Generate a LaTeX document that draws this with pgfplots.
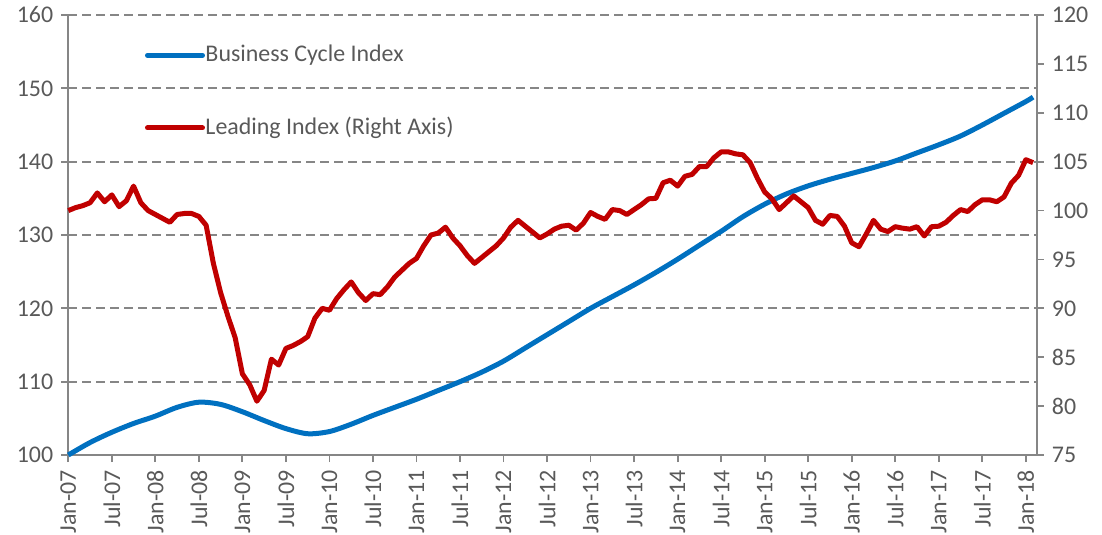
\documentclass[border=0pt]{standalone}
\usepackage{fontspec}
\setmainfont{Carlito}
\usepackage{pgfplots}
\pgfplotsset{compat=1.18}
\definecolor{bci}{HTML}{0070C0}
\definecolor{lead}{HTML}{C00000}
\definecolor{axgray}{HTML}{868686}
\definecolor{txtgray}{HTML}{595959}
\begin{document}
\fontsize{24}{28}\selectfont
\begin{tikzpicture}
\pgfplotsset{
  common/.style={
    scale only axis, width=968.4bp, height=440bp,
    at={(0,0)}, anchor=south west,
    xmin=0, xmax=133.5,
    axis line style={axgray, line width=1.8bp},
    major tick length=7bp,
    every tick/.style={axgray, line width=1.8bp},
    tick align=outside,
    ticklabel style={txtgray, font=\fontsize{24}{28}\selectfont},
    /pgf/number format/assume math mode=true,
    clip=false,
  }
}
\begin{axis}[common,
  ymin=100, ymax=160, ytick={100,110,...,160},
  axis x line*=bottom, axis y line*=left,
  ymajorgrids, grid style={axgray, line width=2bp, dash pattern=on 9bp off 5bp},
  xtick={0,6,...,132},
  xticklabels={Jan-07,Jul-07,Jan-08,Jul-08,Jan-09,Jul-09,Jan-10,Jul-10,Jan-11,Jul-11,Jan-12,Jul-12,Jan-13,Jul-13,Jan-14,Jul-14,Jan-15,Jul-15,Jan-16,Jul-16,Jan-17,Jul-17,Jan-18},
  xticklabel style={rotate=90, anchor=east},
]
\addplot[bci, line width=5bp, smooth] coordinates {
(0,100.0) (3,101.7) (6,103.1) (9,104.3) (12,105.3) (15,106.5) (18,107.2) (21,106.9) (24,105.9) (27,104.7) (30,103.6) (33,102.9) (36,103.2) (39,104.2) (42,105.4) (45,106.5) (48,107.6) (51,108.8) (54,110.0) (57,111.3) (60,112.8) (63,114.6) (66,116.4) (69,118.2) (72,120.0) (75,121.6) (78,123.2) (81,124.9) (84,126.7) (87,128.6) (90,130.5) (93,132.5) (96,134.2) (99,135.6) (102,136.7) (105,137.6) (108,138.4) (111,139.2) (114,140.1) (117,141.2) (120,142.3) (123,143.5) (126,145.0) (129,146.6) (132,148.2) (133,148.8)
};
\end{axis}
\begin{axis}[common,
  ymin=75, ymax=120, ytick={75,80,...,120},
  axis y line*=right, axis x line=none,
  legend style={at={(rel axis cs:0.079,0.933)}, anchor=north west, draw=none, fill=none,
    inner sep=0pt, row sep=51bp, text=txtgray, font=\fontsize{24}{28}\selectfont,
    nodes={inner sep=0.5bp}},
  legend cell align=left,
  legend image code/.code={\draw[#1, line cap=round] (0bp,0bp) -- (55bp,0bp);},
]
\addlegendimage{bci, line width=5bp}
\addlegendentry{Business Cycle Index}
\addplot[lead, line width=5bp, line join=round] coordinates {
(0,100.0) (1,100.3) (2,100.5) (3,100.8) (4,101.8) (5,100.9) (6,101.6) (7,100.4) (8,101.0) (9,102.5)
(10,100.8) (11,100.0) (12,99.6) (13,99.2) (14,98.8) (15,99.6) (16,99.7) (17,99.7) (18,99.4) (19,98.5)
(20,94.6) (21,91.6) (22,89.2) (23,87.0) (24,83.3) (25,82.2) (26,80.5) (27,81.6) (28,84.8) (29,84.2)
(30,85.9) (31,86.2) (32,86.6) (33,87.1) (34,89.0) (35,90.0) (36,89.8) (37,91.0) (38,91.9) (39,92.7)
(40,91.6) (41,90.8) (42,91.5) (43,91.4) (44,92.2) (45,93.2) (46,93.9) (47,94.6) (48,95.1) (49,96.4)
(50,97.5) (51,97.7) (52,98.3) (53,97.2) (54,96.4) (55,95.4) (56,94.6) (57,95.2) (58,95.8) (59,96.4)
(60,97.2) (61,98.3) (62,99.0) (63,98.4) (64,97.8) (65,97.2) (66,97.6) (67,98.1) (68,98.4) (69,98.5)
(70,98.0) (71,98.7) (72,99.8) (73,99.4) (74,99.1) (75,100.1) (76,100.0) (77,99.6) (78,100.1) (79,100.6)
(80,101.2) (81,101.25) (82,102.85) (83,103.1) (84,102.5) (85,103.5) (86,103.7) (87,104.5) (88,104.5) (89,105.4)
(90,106.0) (91,106.0) (92,105.8) (93,105.7) (94,104.9) (95,103.3) (96,101.9) (97,101.2) (98,100.1) (99,100.8)
(100,101.5) (101,100.9) (102,100.3) (103,99.0) (104,98.6) (105,99.5) (106,99.4) (107,98.4) (108,96.7) (109,96.3)
(110,97.6) (111,99.0) (112,98.1) (113,97.85) (114,98.35) (115,98.2) (116,98.1) (117,98.35) (118,97.4) (119,98.35)
(120,98.4) (121,98.8) (122,99.5) (123,100.1) (124,99.9) (125,100.6) (126,101.1) (127,101.1) (128,100.9) (129,101.4)
(130,102.8) (131,103.6) (132,105.2) (133,104.9)
};
\addlegendentry{Leading Index (Right Axis)}
\end{axis}
\pgfresetboundingbox
\path (-68.3bp,-80bp) rectangle (1033.7bp,455bp);
\end{tikzpicture}
\end{document}
